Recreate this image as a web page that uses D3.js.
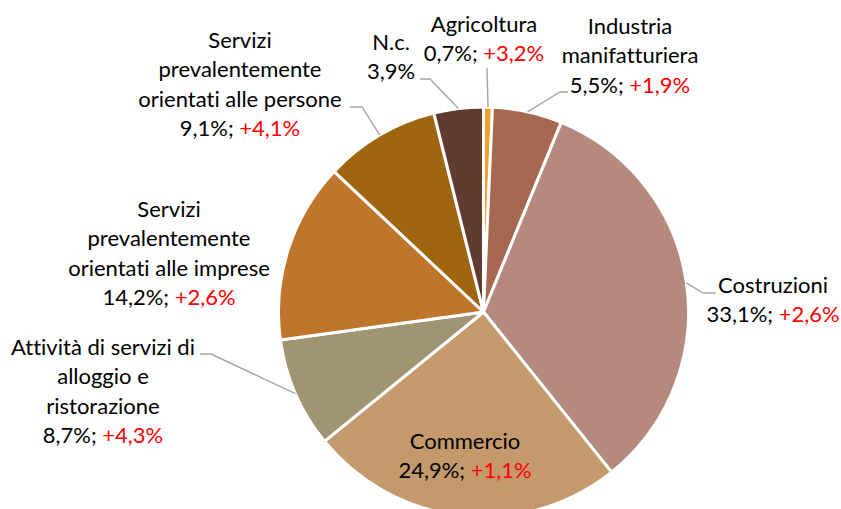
<!DOCTYPE html>
<html>
<head>
<meta charset="utf-8">
<script src="https://cdn.jsdelivr.net/npm/d3@7"></script>
<style>
  body { margin: 0; background: #fff; }
  svg text { font-family: Lato, "Open Sans", sans-serif; font-size: 22px; fill: #000; font-variant-ligatures: none; }
</style>
</head>
<body>
<div id="chart"></div>
<script>
// sectors, clockwise from 12 o'clock
var categories = ["Agricoltura", "Industria manifatturiera", "Costruzioni", "Commercio",
  "Attività di servizi di alloggio e ristorazione", "Servizi prevalentemente orientati alle imprese",
  "Servizi prevalentemente orientati alle persone", "N.c."];
var nameLines = [
  ["Agricoltura"],
  ["Industria", "manifatturiera"],
  ["Costruzioni"],
  ["Commercio"],
  ["Attività di servizi di", "alloggio e", "ristorazione"],
  ["Servizi", "prevalentemente", "orientati alle imprese"],
  ["Servizi", "prevalentemente", "orientati alle persone"],
  ["N.c."]
];
var shares = [0.7, 5.5, 33.1, 24.9, 8.7, 14.2, 9.1, 3.9];
var changes = ["+3,2%", "+1,9%", "+2,6%", "+1,1%", "+4,3%", "+2,6%", "+4,1%", null];
var colors = ["#F0A030", "#A66850", "#B5897E", "#C49A6C", "#A09473", "#C0752C", "#A0650F", "#603B2F"];

var width = 841, height = 509;
var cx = 483.5, cy = 312, radius = 205;

// label layout: centre x, first baseline, leader polyline (label side points)
var labelPos = [
  { x: 484, y: 32, leader: [[487, 68]] },
  { x: 630, y: 34, leader: [[568, 92], [560, 92]] },
  { x: 773, y: 293, leader: [[716, 293], [703, 293]] },
  { x: 465, y: 449, leader: null },
  { x: 103, y: 355, leader: [[200, 354], [211, 354]] },
  { x: 169, y: 217, leader: null },
  { x: 240, y: 48, leader: [[350, 107], [362, 107]] },
  { x: 391, y: 50, leader: [[420, 79], [430, 79]] }
];
var lineGap = 29.3;

var svg = d3.select("#chart").append("svg")
  .attr("width", width)
  .attr("height", height);

var g = svg.append("g")
  .attr("transform", "translate(" + cx + "," + cy + ")");

var pie = d3.pie().sort(null).value(function (d) { return d; });
var arcs = pie(shares);

var arc = d3.arc().innerRadius(0).outerRadius(radius);

g.selectAll("path.slice")
  .data(arcs)
  .enter()
  .append("path")
  .attr("class", "slice")
  .attr("d", arc)
  .attr("fill", function (d, i) { return colors[i]; })
  .attr("stroke", "#fff")
  .attr("stroke-width", 3)
  .attr("stroke-linejoin", "round");

function fmt(v) { return v.toFixed(1).replace(".", ",") + "%"; }

// leader lines
arcs.forEach(function (d, i) {
  var lp = labelPos[i];
  if (!lp.leader) return;
  var a = (d.startAngle + d.endAngle) / 2;
  var edge = [Math.sin(a) * radius, -Math.cos(a) * radius];
  var pts = lp.leader.map(function (p) { return [p[0] - cx, p[1] - cy]; });
  pts.push(edge);
  g.append("path")
    .attr("d", d3.line()(pts))
    .attr("fill", "none")
    .attr("stroke", "#A6A6A6")
    .attr("stroke-width", 1.4);
});

// labels
arcs.forEach(function (d, i) {
  var lp = labelPos[i];
  var t = svg.append("text")
    .attr("text-anchor", "middle")
    .attr("x", lp.x)
    .attr("y", lp.y);
  var lines = nameLines[i];
  lines.forEach(function (l, k) {
    t.append("tspan")
      .attr("x", lp.x)
      .attr("y", lp.y + k * lineGap)
      .text(l);
  });
  t.append("tspan")
    .attr("x", lp.x)
    .attr("y", lp.y + lines.length * lineGap)
    .text(fmt(shares[i]) + (changes[i] ? "; " : ""));
  if (changes[i]) {
    t.append("tspan")
      .style("fill", "#FF0000")
      .text(changes[i]);
  }
});
</script>
</body>
</html>
